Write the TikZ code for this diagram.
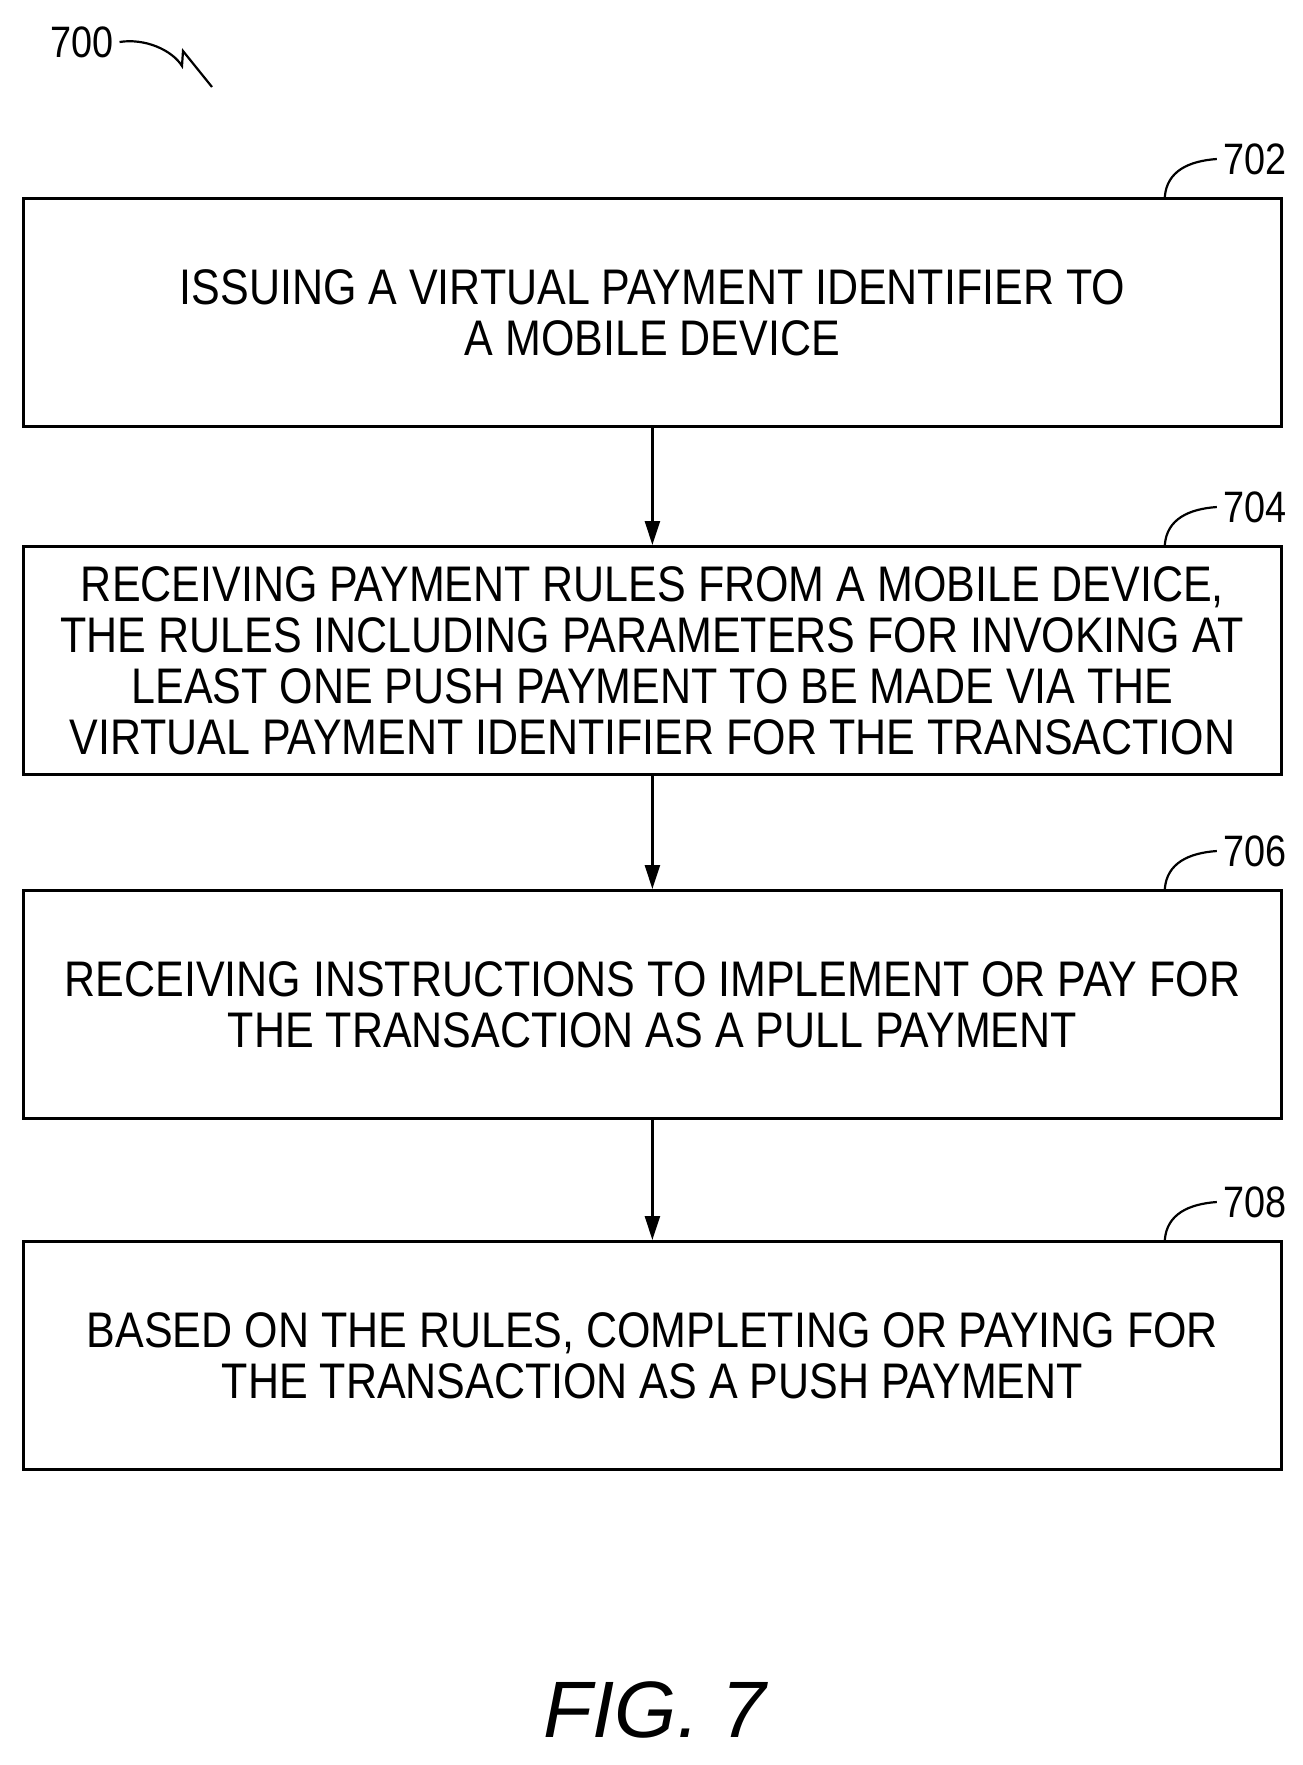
\documentclass[tikz,border=0pt]{standalone}
\usepackage{fontspec}
\setmainfont{Liberation Sans}[FakeStretch=0.86]
\newfontfamily\figfont{Liberation Sans}
\usetikzlibrary{arrows.meta,calc}
\begin{document}
\begin{tikzpicture}[x=1pt,y=-1pt,
  box/.style={draw,line width=2.8pt,minimum width=1258pt,minimum height=228pt,anchor=north west,inner sep=0pt,align=center,font=\fontsize{50}{51}\selectfont},
  lab/.style={font=\fontsize{44}{44}\selectfont,anchor=west,inner sep=0pt},
  arr/.style={line width=2.6pt,-{Triangle[length=24pt,width=15pt]}},
  lead/.style={line width=2.2pt}]
\useasboundingbox (0,0) rectangle (1303,1765);
\node[box] (b1) at (22,197) {ISSUING A VIRTUAL PAYMENT IDENTIFIER TO\\A MOBILE DEVICE};
\node[box] (b2) at (22,545) {RECEIVING PAYMENT RULES FROM A MOBILE DEVICE,\\THE RULES INCLUDING PARAMETERS FOR INVOKING AT\\LEAST ONE PUSH PAYMENT TO BE MADE VIA THE\\VIRTUAL PAYMENT IDENTIFIER FOR THE TRANSACTION};
\node[box] (b3) at (22,889) {RECEIVING INSTRUCTIONS TO IMPLEMENT OR PAY FOR\\THE TRANSACTION AS A PULL PAYMENT};
\node[box] (b4) at (22,1240) {BASED ON THE RULES, COMPLETING OR PAYING FOR\\THE TRANSACTION AS A PUSH PAYMENT};
\draw[arr] (b1.south) -- (b2.north);
\draw[arr] (b2.south) -- (b3.north);
\draw[arr] (b3.south) -- (b4.north);
\foreach \b/\t in {b1/702,b2/704,b3/706,b4/708}{
  \node[lab] (l\t) at ($(\b.north east)+(-60,-38)$) {\t};
  \draw[lead] ($(\b.north east)+(-118,0)$) .. controls ($(\b.north east)+(-116,-26)$) and ($(\b.north east)+(-94,-36)$) .. ($(l\t.west)+(-6,0)$);
}
\node[lab] (l700) at (50,42) {700};
\coordinate (t700) at (212,87);
\draw[lead] ($(l700.east)+(6,0)$) .. controls (145,38) and (172,50) .. (182,66) -- (183,51) -- (t700);
\node[font=\figfont\itshape\fontsize{80}{80}\selectfont] (fig) at (655,1710) {FIG. 7};
\end{tikzpicture}
\end{document}
